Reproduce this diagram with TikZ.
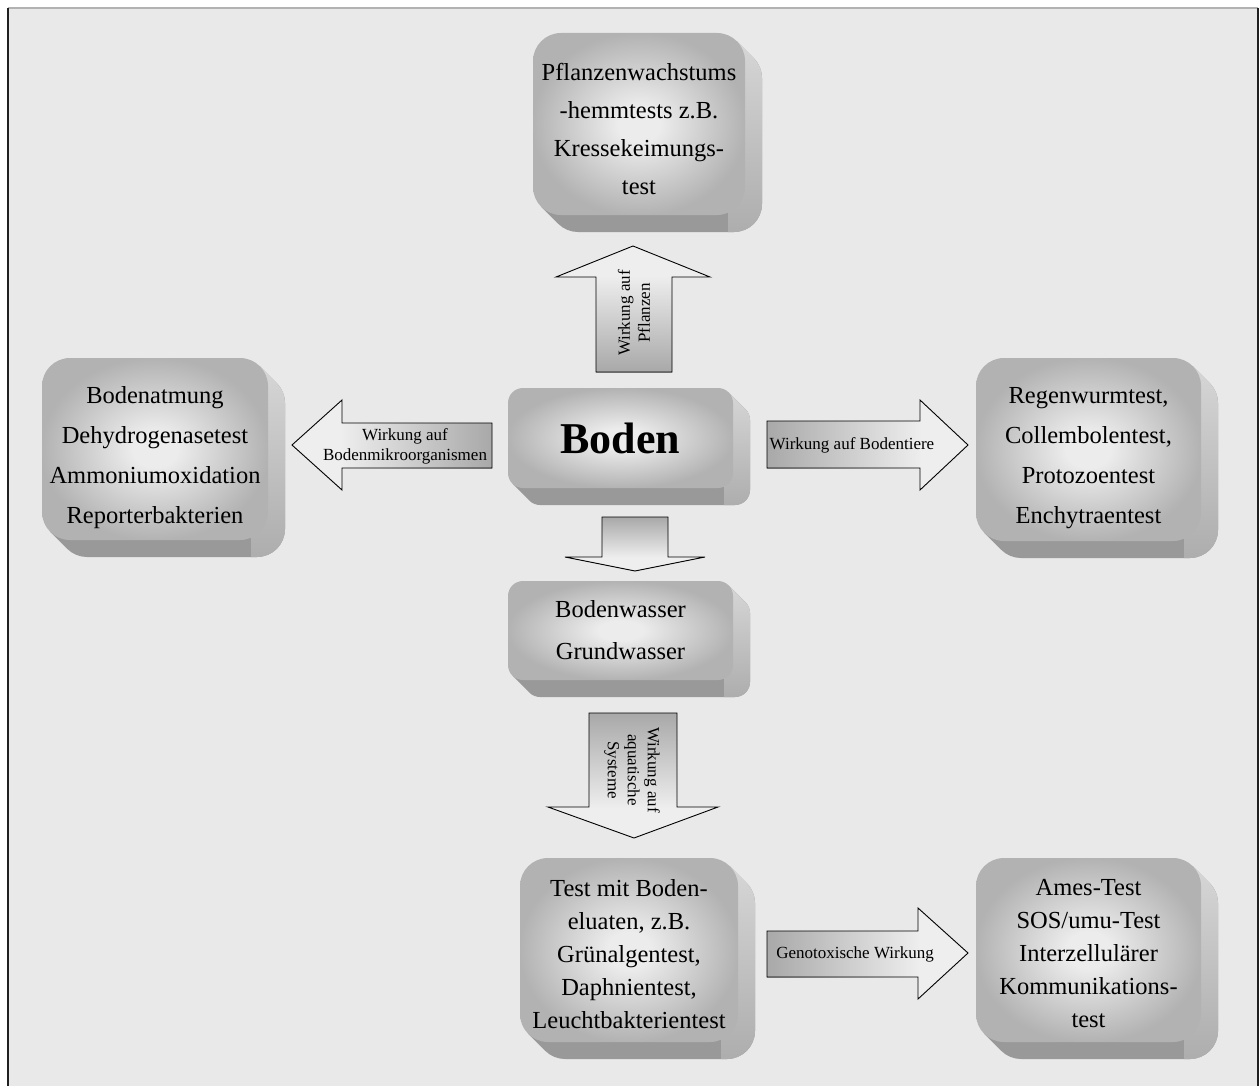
\documentclass[tikz,border=0pt]{standalone}
\usepackage{fontspec}
\setmainfont{Liberation Serif}
\definecolor{bg}{gray}{0.914}
\definecolor{capin}{gray}{0.925}
\definecolor{capout}{gray}{0.70}
\definecolor{sidedark}{gray}{0.60}
\definecolor{sidelighttop}{gray}{0.84}
\definecolor{sidelightbot}{gray}{0.68}
\definecolor{arrowfill}{gray}{0.935}
\definecolor{shaftdark}{gray}{0.66}
\definecolor{shaftlight}{gray}{0.93}
\pgfdeclareradialshading{keycap}{\pgfpoint{0bp}{0bp}}{color(0bp)=(capin); color(5bp)=(capin); color(25bp)=(capout); color(50bp)=(capout)}
\tikzset{
  arrowline/.style={draw=black, line width=0.9pt, line join=miter},
  arrowtext/.style={font=\fontsize{17}{20}\selectfont, align=center, inner sep=0pt},
}
\def\kbdy{0}
\newcommand\keybox[9]{%
  \pgfmathsetmacro\kbax{#4-#6+0.7071*#6}%
  \pgfmathsetmacro\kbay{#3+#6-0.7071*#6}%
  \pgfmathsetmacro\kbbx{#2+#6-0.7071*#6}%
  \pgfmathsetmacro\kbby{#5-#6+0.7071*#6}%
  \pgfmathsetmacro\kbcx{#4-0.6*#6}%
  \def\kbhull{(\kbax,\kbay) -- ++(#7,#7) arc[start angle=-45,end angle=0,radius=#6] -- (#4+#7,#5-#6+#7) arc[start angle=0,end angle=90,radius=#6] -- (#2+#6+#7,#5+#7) arc[start angle=90,end angle=135,radius=#6] -- (\kbbx,\kbby) -- cycle}%
  \fill[sidedark] \kbhull;
  \begin{scope}
    \clip (\kbcx,#3) rectangle (#4+#7+3,#5+#7+3);
    \shade[top color=sidelighttop,bottom color=sidelightbot] \kbhull;
  \end{scope}
  \shade[shading=keycap, rounded corners=#6pt] (#2,#3) rectangle (#4,#5);
  \node[font=\fontsize{24.5}{#8}\selectfont, align=center, inner sep=0pt] (#1) at ({(#2+#4)/2},{(#3+#5)/2+\kbdy}) {#9};
}
\begin{document}
\begin{tikzpicture}[x=1pt,y=-1pt]
\useasboundingbox (0,0) rectangle (1260,1086);
\fill[white] (0,0) rectangle (1260,1086);
\fill[bg] (8,8) rectangle (1258,1086);
\draw[line width=1.5pt, gray!60] (8,8) -- (1258,8);
\draw[line width=2pt, gray!25!black] (8,8) -- (8,1086);
\draw[line width=2pt, gray!25!black] (1258,8) -- (1258,1086);

% boxes
\def\kbdy{5}
\keybox{top}{533}{33}{745}{215}{28}{17}{38}{Pflanzenwachstums\\-hemmtests z.B.\\Kressekeimungs-\\test}
\def\kbdy{9}
\keybox{left}{42}{358}{268}{540}{28}{17}{40}{Bodenatmung\\Dehydrogenasetest\\Ammoniumoxidation\\Reporterbakterien}
\keybox{right}{976}{358}{1201}{541}{28}{17}{40}{Regenwurmtest,\\Collembolentest,\\Protozoentest\\Enchytraentest}
\def\kbdy{0}
\keybox{boden}{508}{388}{733}{488}{15}{17}{50}{\fontsize{44}{50}\selectfont\bfseries Boden}
\keybox{wasser}{508}{581}{733}{680}{15}{17}{42}{Bodenwasser\\Grundwasser}
\def\kbdy{4}
\keybox{eluate}{520}{858}{738}{1042}{28}{17}{33}{Test mit Boden-\\eluaten, z.B.\\Grünalgentest,\\Daphnientest,\\Leuchtbakterientest}
\keybox{geno}{976}{858}{1201}{1042}{28}{17}{33}{Ames-Test\\SOS/umu-Test\\Interzellulärer\\Kommunikations-\\test}

% up arrow (plants)
\fill[arrowfill] (596,372) -- (596,277) -- (556,277) -- (633,246) -- (710,277) -- (672,277) -- (672,372) -- cycle;
\shade[bottom color=shaftdark, top color=shaftlight] (596,372) rectangle (672,277);
\draw[arrowline] (596,372) -- (596,277) -- (556,277) -- (633,246) -- (710,277) -- (672,277) -- (672,372) -- cycle;
\node[arrowtext, rotate=90] (lblP) at (634,313) {Wirkung auf\\Pflanzen};

% left arrow (microorganisms)
\fill[arrowfill] (492,423) -- (342,423) -- (342,400) -- (292,445) -- (342,490) -- (342,468) -- (492,468) -- cycle;
\shade[left color=shaftlight, right color=shaftdark] (342,423) rectangle (492,468);
\draw[arrowline] (492,423) -- (342,423) -- (342,400) -- (292,445) -- (342,490) -- (342,468) -- (492,468) -- cycle;
\node[arrowtext] (lblM) at (405,446) {Wirkung auf\\Bodenmikroorganismen};

% right arrow (soil animals)
\fill[arrowfill] (767,421) -- (920,421) -- (920,400) -- (968,445) -- (920,490) -- (920,468) -- (767,468) -- cycle;
\shade[left color=shaftdark, right color=shaftlight] (767,421) rectangle (920,468);
\draw[arrowline] (767,421) -- (920,421) -- (920,400) -- (968,445) -- (920,490) -- (920,468) -- (767,468) -- cycle;
\node[arrowtext] (lblT) at (852,445) {Wirkung auf Bodentiere};

% small down arrow
\fill[arrowfill] (602,517) -- (602,557) -- (565,557) -- (635,571) -- (705,557) -- (668,557) -- (668,517) -- cycle;
\shade[top color=shaftdark, bottom color=shaftlight] (602,517) rectangle (668,557);
\draw[arrowline] (602,517) -- (602,557) -- (565,557) -- (635,571) -- (705,557) -- (668,557) -- (668,517) -- cycle;

% big down arrow (aquatic)
\fill[arrowfill] (589,713) -- (589,807) -- (548,807) -- (634,838) -- (718,807) -- (677,807) -- (677,713) -- cycle;
\shade[top color=shaftdark, bottom color=shaftlight] (589,713) rectangle (677,807);
\draw[arrowline] (589,713) -- (589,807) -- (548,807) -- (634,838) -- (718,807) -- (677,807) -- (677,713) -- cycle;
\node[arrowtext, rotate=-90] (lblA) at (632,770) {Wirkung auf\\aquatische\\Systeme};

% genotoxic arrow
\fill[arrowfill] (767,931) -- (918,931) -- (918,908) -- (968,953) -- (918,999) -- (918,977) -- (767,977) -- cycle;
\shade[left color=shaftdark, right color=shaftlight] (767,931) rectangle (918,977);
\draw[arrowline] (767,931) -- (918,931) -- (918,908) -- (968,953) -- (918,999) -- (918,977) -- (767,977) -- cycle;
\node[arrowtext] (lblG) at (855,954) {Genotoxische Wirkung};
\end{tikzpicture}
\end{document}
